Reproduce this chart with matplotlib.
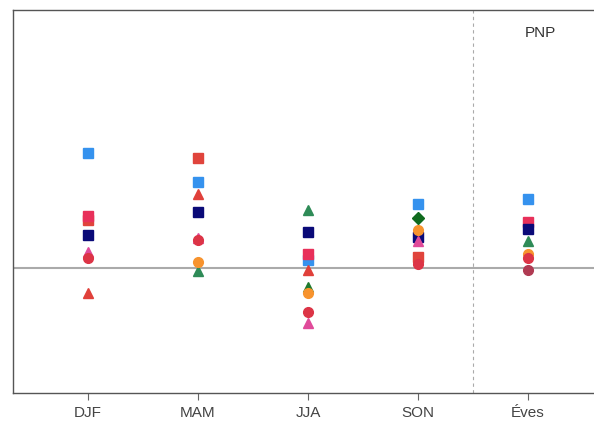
import numpy as np
import matplotlib
matplotlib.use("Agg")
import matplotlib.pyplot as plt

plt.rcParams['font.family'] = ['Liberation Sans', 'DejaVu Sans']

seasons = ["DJF", "MAM", "JJA", "SON", "Éves"]
nan = np.nan

# anomaly per season for each model run (nan = not shown)
light_blue_sq = [1.15, 0.86, 0.08, 0.64, 0.69]
red_sq        = [0.48, 1.10, nan, 0.11, nan]
crimson_sq    = [0.52, nan, 0.14, nan, 0.46]
navy_sq       = [0.33, 0.56, 0.36, 0.31, 0.39]
red_tri       = [-0.25, 0.74, -0.02, nan, nan]
pink_tri      = [0.16, 0.30, -0.55, 0.27, nan]
green_tri     = [nan, -0.03, 0.58, nan, 0.27]
dkgreen_tri   = [nan, nan, -0.19, nan, nan]
dkgreen_dia   = [nan, nan, nan, 0.50, nan]
orange_ci     = [nan, 0.06, -0.25, 0.38, 0.14]
red_ci        = [0.10, 0.28, -0.44, 0.04, 0.10]
dkred_ci      = [nan, nan, nan, nan, -0.02]

series = [
    (light_blue_sq, "s", "#3592ee"),
    (red_sq, "s", "#e0443c"),
    (crimson_sq, "s", "#e8305a"),
    (navy_sq, "s", "#0a0a78"),
    (red_tri, "^", "#e0403a"),
    (pink_tri, "^", "#e04a9a"),
    (green_tri, "^", "#2e8b57"),
    (dkgreen_tri, "^", "#1f7a2e"),
    (dkgreen_dia, "D", "#0f6a1e"),
    (orange_ci, "o", "#f7932e"),
    (red_ci, "o", "#dc3446"),
    (dkred_ci, "o", "#b03a52"),
]

fig = plt.figure(figsize=(5.94, 4.4), dpi=100)
# right edge of the frame runs off the canvas
ax = fig.add_axes([13 / 594, 47 / 440, 607 / 594, 383 / 440])

x = np.arange(1, len(seasons) + 1)
ax.axhline(0, color="#aaaaaa", lw=1.5, zorder=1)
ax.axvline(4.5, color="#aaaaaa", lw=0.8, ls=(0, (3, 3)), zorder=1)

for vals, m, c in series:
    ms = 6 if m == "D" else 7.5 if m == "^" else 7
    ax.plot(x, vals, ls="none", marker=m, color=c, ms=ms, mec=c, zorder=3)

ax.text(5.11, 2.35, "PNP", fontsize=11, color="#333333", ha="center", va="center")

ax.set_xlim(1 - 75 / 110, 1 + 532 / 110)
ax.set_ylim(-1.25, 2.58)
ax.set_xticks(x)
ax.set_xticklabels(seasons, fontsize=11, color="#444444")
ax.set_yticks([])
ax.tick_params(axis="x", length=5, width=0.8, color="#666666", pad=4)
for s in ax.spines.values():
    s.set_color("#555555")
    s.set_linewidth(1.0)

fig.savefig("out.png", dpi=100)
